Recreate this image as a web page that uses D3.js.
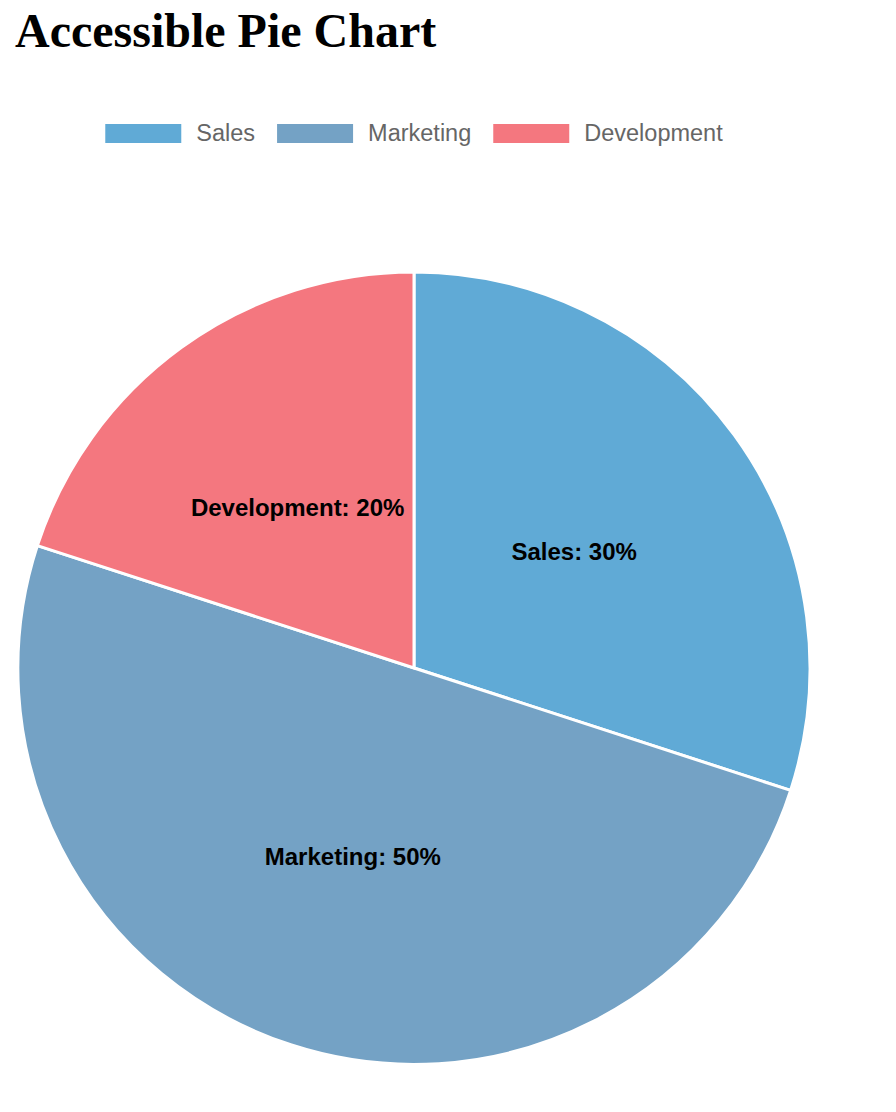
<!DOCTYPE html>
<html>
<head>
<meta charset="utf-8">
<title>Accessible Pie Chart</title>
<script src="https://cdn.jsdelivr.net/npm/d3@7"></script>
<style>
  body { margin: 0; background: #fff; }
</style>
</head>
<body>
<div id="chart"></div>
<script>
const categories = ["Sales", "Marketing", "Development"];
const values = [30, 50, 20];
const colors = ["#60aad6", "#74a2c5", "#f4777f"];

const width = 896;
const height = 1112;
const cx = 414;
const cy = 668;
const radius = 396;

const svg = d3
  .select("#chart")
  .append("svg")
  .attr("width", width)
  .attr("height", height)
  .attr("role", "img")
  .attr("aria-label", "Accessible Pie Chart");

svg
  .append("text")
  .attr("x", 15)
  .attr("y", 47)
  .attr("font-family", "'Liberation Serif', 'Times New Roman', serif")
  .attr("font-weight", "bold")
  .attr("font-size", 48)
  .attr("fill", "#000")
  .text("Accessible Pie Chart");

const color = d3.scaleOrdinal().domain(categories).range(colors);

// legend: box, label, box, label... centred on the pie
const legend = svg.append("g").attr("class", "legend");
const items = legend
  .selectAll("g")
  .data(categories)
  .enter()
  .append("g");

items
  .append("rect")
  .attr("width", 76)
  .attr("height", 19)
  .attr("y", 124)
  .attr("fill", (d) => color(d));

items
  .append("text")
  .attr("y", 141)
  .attr("font-family", "'Liberation Sans', Arial, Helvetica, sans-serif")
  .attr("font-size", 23.5)
  .attr("fill", "#666")
  .text((d) => d);

let offset = 0;
const widths = [];
items.each(function () {
  widths.push(d3.select(this).select("text").node().getComputedTextLength());
});
const total = d3.sum(widths, (w) => 76 + 15 + w) + 22 * (widths.length - 1);
const x0 = cx - total / 2;
items.each(function (d, i) {
  const g = d3.select(this);
  g.select("rect").attr("x", x0 + offset);
  g.select("text").attr("x", x0 + offset + 91);
  offset += 76 + 15 + widths[i] + 22;
});

const pie = d3.pie().sort(null).value((d) => d.value);
const arc = d3.arc().innerRadius(0).outerRadius(radius);
const slices = pie(categories.map((c, i) => ({ name: c, value: values[i] })));
const totalValue = d3.sum(values);

const g = svg.append("g").attr("transform", `translate(${cx},${cy})`);

g.selectAll("path")
  .data(slices)
  .enter()
  .append("path")
  .attr("d", arc)
  .attr("fill", (d) => color(d.data.name))
  .attr("stroke", "#fff")
  .attr("stroke-width", 3)
  .append("title")
  .text((d) => `${d.data.name}: ${d.data.value}%`);

g.selectAll("text.slice-label")
  .data(slices)
  .enter()
  .append("text")
  .attr("class", "slice-label")
  .attr("transform", (d) => `translate(${arc.centroid(d)})`)
  .attr("text-anchor", "middle")
  .attr("dy", "0.36em")
  .attr("font-family", "'Liberation Sans', Arial, Helvetica, sans-serif")
  .attr("font-weight", "bold")
  .attr("font-size", 24)
  .attr("fill", "#000")
  .text((d) => `${d.data.name}: ${Math.round((d.data.value / totalValue) * 100)}%`);
</script>
</body>
</html>
